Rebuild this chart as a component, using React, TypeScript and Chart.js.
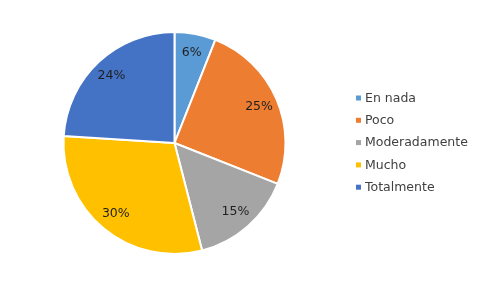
import React, { useEffect, useRef } from "react";
import { Chart, registerables } from "chart.js";

Chart.register(...registerables);

const categories = ["En nada", "Poco", "Moderadamente", "Mucho", "Totalmente"];
const values = [6, 25, 15, 30, 24];
const colors = ["#5B9BD5", "#ED7D31", "#A5A5A5", "#FFC000", "#4472C4"];

const FONT = "'DejaVu Sans', sans-serif";

const labelPlugin = {
  id: "sliceLabels",
  afterDatasetsDraw(chart: any) {
    const ctx = chart.ctx;
    const meta = chart.getDatasetMeta(0);
    const total = values.reduce((a, b) => a + b, 0);
    ctx.save();
    ctx.font = `12.5px ${FONT}`;
    ctx.fillStyle = "#1f1f1f";
    ctx.textAlign = "center";
    ctx.textBaseline = "middle";
    meta.data.forEach((arc: any, i: number) => {
      const p = arc.getProps(["x", "y", "startAngle", "endAngle", "outerRadius"], true);
      const mid = (p.startAngle + p.endAngle) / 2;
      const r = p.outerRadius * 0.83;
      const pct = Math.round((values[i] / total) * 100) + "%";
      ctx.fillText(pct, p.x + Math.cos(mid) * r, p.y + Math.sin(mid) * r);
    });
    ctx.restore();
  },
};

const legendPlugin = {
  id: "customLegend",
  afterDraw(chart: any) {
    const ctx = chart.ctx;
    ctx.save();
    ctx.font = `12.5px ${FONT}`;
    ctx.textAlign = "left";
    ctx.textBaseline = "middle";
    const x0 = 356;
    const y0 = 98;
    const step = 22.3;
    categories.forEach((c, i) => {
      const y = y0 + i * step;
      ctx.fillStyle = colors[i];
      ctx.fillRect(x0, y - 2.5, 5, 5);
      ctx.fillStyle = "#404040";
      ctx.fillText(c, x0 + 9, y + 0.5);
    });
    ctx.restore();
  },
};

export default function App() {
  const ref = useRef<HTMLCanvasElement | null>(null);
  useEffect(() => {
    if (!ref.current) return;
    const chart = new Chart(ref.current, {
      type: "pie",
      data: {
        labels: categories,
        datasets: [
          {
            data: values,
            backgroundColor: colors,
            borderColor: "#ffffff",
            borderWidth: 2,
          },
        ],
      },
      options: {
        animation: false,
        responsive: false,
        maintainAspectRatio: false,
        layout: { padding: { left: 62, right: 193, top: 31, bottom: 33 } },
        plugins: {
          legend: { display: false },
          tooltip: { enabled: false },
        },
      },
      plugins: [labelPlugin, legendPlugin],
    });
    return () => chart.destroy();
  }, []);
  return (
    <div style={{ position: "fixed", left: 0, top: 0, width: 480, height: 288, background: "#fff" }}>
      <canvas ref={ref} width={480} height={288} style={{ width: 480, height: 288 }} />
    </div>
  );
}
